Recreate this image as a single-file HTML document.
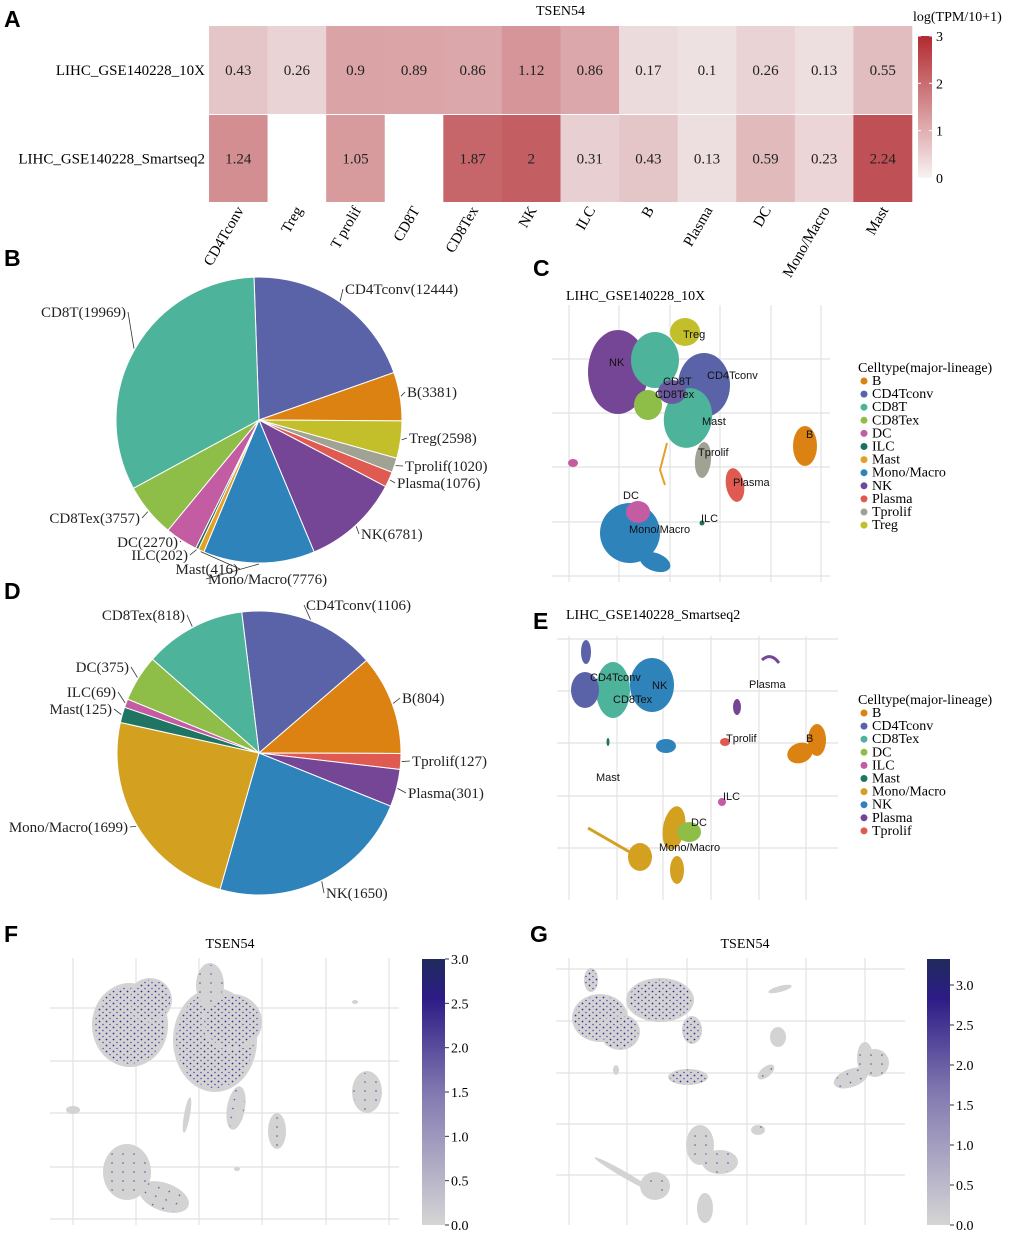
<!DOCTYPE html>
<html><head><meta charset="utf-8"><style>
body{margin:0;background:#fff}
svg{display:block}
.serif{font-family:"Liberation Serif",serif}
.sans{font-family:"Liberation Sans",sans-serif}
.let{font-family:"Liberation Sans",sans-serif;font-weight:bold;font-size:23px}
</style></head><body>
<svg id="fig" width="1020" height="1236" viewBox="0 0 1020 1236" xmlns="http://www.w3.org/2000/svg">
<defs>
<pattern id="dots" width="7" height="6" patternUnits="userSpaceOnUse">
<circle cx="1.5" cy="1.5" r="0.9" fill="#3a2a95"/><circle cx="5" cy="4.5" r="0.8" fill="#5c4cab"/>
</pattern>
<pattern id="dots2" width="11" height="9" patternUnits="userSpaceOnUse">
<circle cx="2" cy="2" r="0.8" fill="#5a4aa8"/>
</pattern>
<linearGradient id="redbar" x1="0" y1="1" x2="0" y2="0"><stop offset="0" stop-color="#f7f2f2"/><stop offset="1" stop-color="#b22a30"/></linearGradient>
<linearGradient id="bluebar" x1="0" y1="1" x2="0" y2="0"><stop offset="0" stop-color="#d5d5d5"/><stop offset="0.5" stop-color="#8278b0"/><stop offset="0.85" stop-color="#2d1c86"/><stop offset="1" stop-color="#1f2a5c"/></linearGradient>
</defs>
<g id="heat"></g>
<g id="pieB"></g>
<g id="pieD"></g>
<g id="umapC"></g>
<g id="umapE"></g>
<g id="umapF"></g>
<g id="umapG"></g>
<text class="let" x="4" y="27">A</text>
<text class="let" x="4" y="266">B</text>
<text class="let" x="533" y="276">C</text>
<text class="let" x="4" y="599">D</text>
<text class="let" x="533" y="629">E</text>
<text class="let" x="4" y="942">F</text>
<text class="let" x="530" y="942">G</text>
</svg>
<script>
const NS="http://www.w3.org/2000/svg";
function mk(parent,tag,attrs,txt){const e=document.createElementNS(NS,tag);for(const k in attrs)e.setAttribute(k,attrs[k]);if(txt!==undefined)e.textContent=txt;parent.appendChild(e);return e;}

// ---------- Panel A data ----------
const heatCols=["CD4Tconv","Treg","T prolif","CD8T","CD8Tex","NK","ILC","B","Plasma","DC","Mono/Macro","Mast"];
const heatRows=["LIHC_GSE140228_10X","LIHC_GSE140228_Smartseq2"];
const heat10x=[0.43,0.26,0.9,0.89,0.86,1.12,0.86,0.17,0.1,0.26,0.13,0.55];
const heatSS2=[1.24,null,1.05,null,1.87,2,0.31,0.43,0.13,0.59,0.23,2.24];
const heatTicks=[0,1,2,3];

// ---------- Pie data ----------
const pieBLabels=["CD4Tconv","B","Treg","Tprolif","Plasma","NK","Mono/Macro","Mast","ILC","DC","CD8Tex","CD8T"];
const pieBValues=[12444,3381,2598,1020,1076,6781,7776,416,202,2270,3757,19969];
const pieDLabels=["CD4Tconv","B","Tprolif","Plasma","NK","Mono/Macro","Mast","ILC","DC","CD8Tex"];
const pieDValues=[1106,804,127,301,1650,1699,125,69,375,818];

// ---------- Legends ----------
const legendC=["B","CD4Tconv","CD8T","CD8Tex","DC","ILC","Mast","Mono/Macro","NK","Plasma","Tprolif","Treg"];
const legendE=["B","CD4Tconv","CD8Tex","DC","ILC","Mast","Mono/Macro","NK","Plasma","Tprolif"];
const expTicksF=["0.0","0.5","1.0","1.5","2.0","2.5","3.0"];
const expTicksG=["0.0","0.5","1.0","1.5","2.0","2.5","3.0"];

// ---------- A heatmap ----------
(function(){
 const g=document.getElementById('heat');
 const x0=209,x1=912,rowsY=[[26,114],[115,202]];
 const cw=(x1-x0)/heatCols.length;
 const vmax=3;
 function col(v){const t=Math.pow(Math.min(v,vmax)/vmax,0.85);const a=[242,236,237],b=[176,36,42];return 'rgb('+a.map((c,i)=>Math.round(c+(b[i]-c)*t)).join(',')+')';}
 mk(g,'text',{x:(x0+x1)/2,y:15,'text-anchor':'middle','font-size':14,class:'serif',},'TSEN54');
 [heat10x,heatSS2].forEach((row,r)=>{
  const [ya,yb]=rowsY[r];
  const lab=mk(g,'text',{x:205,y:(ya+yb)/2+5,'text-anchor':'end','font-size':15,class:'serif'},heatRows[r]);
  
  
  row.forEach((v,i)=>{
   const rc=mk(g,'rect',{x:x0+i*cw,y:ya,width:cw+0.3,height:yb-ya,fill:v===null?'#ffffff':col(v)});
   
   
   if(v!==null){
    const t=mk(g,'text',{x:x0+i*cw+cw/2,y:(ya+yb)/2+5,'text-anchor':'middle','font-size':15,class:'serif',fill:'#222'},String(v));
    
    
   }
  });
 });
 heatCols.forEach((c,i)=>{
  const cx=x0+i*cw+cw/2+6,cy=210;
  const t=mk(g,'text',{x:cx,y:cy,'text-anchor':'end','font-size':15,class:'serif',transform:'rotate(-60 '+cx+' '+cy+')'},c);
  
  
 });
 // colorbar
 const bx=918,by0=178,by1=36;
 const cb=mk(g,'rect',{x:bx,y:by1,width:14,height:by0-by1,fill:'url(#redbar)'});
 
 
 mk(g,'text',{x:913,y:21,'font-size':14,class:'serif'},'log(TPM/10+1)');
 heatTicks.forEach(v=>{
  const y=by0-(v/vmax)*(by0-by1);
  mk(g,'line',{x1:bx,x2:bx+3,y1:y,y2:y,stroke:'#fff'});
  mk(g,'line',{x1:bx+11,x2:bx+14,y1:y,y2:y,stroke:'#fff'});
  const t=mk(g,'text',{x:936,y:y+5,'font-size':14,class:'serif'},String(v));
  
  
 });
})();

// ---------- pies ----------
function drawPie(gid,labels,values,colors,cx,cy,r,start,labelPos){
 const g=document.getElementById(gid);
 const tot=values.reduce((a,b)=>a+b,0);
 let a=start;
 values.forEach((v,i)=>{
  const a2=a+v/tot*360;
  const p=ang=>[cx+r*Math.sin(ang*Math.PI/180),cy-r*Math.cos(ang*Math.PI/180)];
  const [sx,sy]=p(a),[ex,ey]=p(a2);
  const large=(a2-a)>180?1:0;
  const s=mk(g,'path',{d:`M${cx},${cy} L${sx},${sy} A${r},${r} 0 ${large} 1 ${ex},${ey} Z`,fill:colors[i],stroke:'#fff','stroke-width':1});
  
  
  const mid=(a+a2)/2;const [mx,my]=[cx+(r+1)*Math.sin(mid*Math.PI/180),cy-(r+1)*Math.cos(mid*Math.PI/180)];
  const lp=labelPos[i];
  const lx=lp[2]==='end'?lp[0]+2:lp[0]-2;
  mk(g,'line',{x1:mx,y1:my,x2:lx,y2:lp[1]-5,stroke:'#333','stroke-width':0.8});
  const t=mk(g,'text',{x:lp[0],y:lp[1],'font-size':15,class:'serif','text-anchor':lp[2],fill:'#222'},labels[i]+'('+v+')');
  
  
  a=a2;
 });
}
const colMap={"CD4Tconv":"#5a63a7","B":"#dc8212","Treg":"#c3bf2b","Tprolif":"#a0a293","Plasma":"#df5a50","NK":"#764696","Mono/Macro":"#2f83bb","Mast":"#e3a127","ILC":"#1f6f5c","DC":"#c45ca3","CD8Tex":"#8fbe48","CD8T":"#4db49b"};
const colMapE={"CD4Tconv":"#5a63a7","B":"#dc8212","Tprolif":"#df5a50","Plasma":"#764696","NK":"#2f83bb","Mono/Macro":"#d3a020","Mast":"#1f7561","ILC":"#c45ca3","DC":"#8fbe48","CD8Tex":"#4db49b"};
drawPie('pieB',pieBLabels,pieBValues,pieBLabels.map(l=>colMap[l]),259,420,143,-2,
 [[345,294,'start'],[407,397,'start'],[409,443,'start'],[405,471,'start'],[397,488,'start'],[361,539,'start'],[208,584,'start'],[238,574,'end'],[188,560,'end'],[178,547,'end'],[140,523,'end'],[126,317,'end']]);
drawPie('pieD',pieDLabels,pieDValues,pieDLabels.map(l=>colMapE[l]),259,753,142,-7,
 [[306,610,'start'],[402,703,'start'],[412,766,'start'],[408,798,'start'],[326,898,'start'],[128,832,'end'],[112,714,'end'],[116,697,'end'],[129,672,'end'],[185,620,'end']]);

// ---------- UMAP helpers ----------
function grid(g,xs,ys,xa,xb,ya,yb){
 xs.forEach(x=>mk(g,'line',{x1:x,x2:x,y1:ya,y2:yb,stroke:'#e2e2e2','stroke-width':1.2}));
 ys.forEach(y=>mk(g,'line',{x1:xa,x2:xb,y1:y,y2:y,stroke:'#e2e2e2','stroke-width':1.2}));
}
function blob(g,cx,cy,rx,ry,fill,rot,name){
 const e=mk(g,'ellipse',{cx,cy,rx,ry,fill,transform:`rotate(${rot||0} ${cx} ${cy})`});
 
 
 return e;
}
function lab(g,x,y,t){const e=mk(g,'text',{x,y,'font-size':11,class:'sans',fill:'#111'},t);}
function legend(g,x,y,title,items,cmap){
 mk(g,'text',{x,y,'font-size':14,class:'serif'},title);
 items.forEach((it,i)=>{
  const yy=y+13+i*13.1;
  const c=mk(g,'circle',{cx:x+6,cy:yy-4,r:3.5,fill:cmap[it]});
  
  
  const t=mk(g,'text',{x:x+14,y:yy,'font-size':14,class:'serif'},it);
  
  
 });
}

// ---------- C ----------
(function(){
 const g=document.getElementById('umapC');
 mk(g,'text',{x:566,y:300,'font-size':14,class:'serif'},'LIHC_GSE140228_10X');
 grid(g,[569,619,670,720,771,821],[359,413,467,522,576],552,830,305,582);
 blob(g,618,372,30,42,colMap.NK,0);
 blob(g,655,360,24,28,colMap.CD8T,0);
 blob(g,704,385,26,32,colMap.CD4Tconv,0);
 blob(g,685,332,15,14,colMap.Treg,0);
 blob(g,688,418,24,30,colMap.CD8T,10);
 blob(g,648,405,14,15,colMap.CD8Tex,0);
 blob(g,672,392,14,12,'#6a5aa0',0);
 blob(g,703,460,8,18,colMap.Tprolif,5);
 blob(g,735,485,9,17,colMap.Plasma,-10);
 blob(g,805,446,12,20,colMap.B,0);
 blob(g,630,533,30,30,colMap['Mono/Macro'],0);
 blob(g,655,562,16,9,colMap['Mono/Macro'],20);
 blob(g,638,512,12,11,colMap.DC,0);
 blob(g,573,463,5,4,colMap.DC,0);
 blob(g,702,523,2.5,2.5,colMap.ILC,0);
 mk(g,'path',{d:'M667,443 L660,470 L665,485',stroke:colMap.Mast,'stroke-width':2,fill:'none'});
 lab(g,683,338,'Treg');lab(g,609,366,'NK');lab(g,707,379,'CD4Tconv');lab(g,663,385,'CD8T');lab(g,655,398,'CD8Tex');
 lab(g,702,425,'Mast');lab(g,698,456,'Tprolif');lab(g,733,486,'Plasma');lab(g,806,438,'B');lab(g,623,499,'DC');lab(g,629,533,'Mono/Macro');lab(g,701,522,'ILC');
 legend(g,858,372,'Celltype(major-lineage)',legendC,colMap);
})();

// ---------- E ----------
(function(){
 const g=document.getElementById('umapE');
 mk(g,'text',{x:566,y:619,'font-size':14,class:'serif'},'LIHC_GSE140228_Smartseq2');
 grid(g,[569,617,663,711,759,806],[639,691,743,796,848],557,838,636,900);
 blob(g,652,685,22,27,colMapE.NK,0);
 blob(g,613,690,17,28,colMapE.CD8Tex,0);
 blob(g,585,690,14,18,colMapE.CD4Tconv,0);
 blob(g,586,652,5,12,colMapE.CD4Tconv,0);
 blob(g,666,746,10,7,colMapE.NK,0);
 blob(g,737,707,4,8,colMapE.Plasma,0);
 mk(g,'path',{d:'M762,660 Q771,652 779,663',stroke:colMapE.Plasma,'stroke-width':3,fill:'none'});
 blob(g,725,742,5,4,colMapE.Tprolif,0);
 blob(g,800,753,13,10,colMapE.B,-20);
 blob(g,817,740,9,16,colMapE.B,0);
 blob(g,722,802,4,4,colMapE.ILC,0);
 blob(g,674,828,11,22,colMapE['Mono/Macro'],10);
 blob(g,640,857,12,14,colMapE['Mono/Macro'],0);
 blob(g,677,870,7,14,colMapE['Mono/Macro'],0);
 mk(g,'path',{d:'M588,828 L640,858',stroke:colMapE['Mono/Macro'],'stroke-width':3,fill:'none'});
 blob(g,689,832,12,10,colMapE.DC,0);
 blob(g,608,742,1.5,4,colMapE.Mast,0);
 lab(g,590,681,'CD4Tconv');lab(g,652,689,'NK');lab(g,613,703,'CD8Tex');lab(g,749,688,'Plasma');lab(g,726,742,'Tprolif');lab(g,806,742,'B');
 lab(g,596,781,'Mast');lab(g,723,800,'ILC');lab(g,691,826,'DC');lab(g,659,851,'Mono/Macro');
 legend(g,858,704,'Celltype(major-lineage)',legendE,colMapE);
})();

// ---------- F & G ----------
function expPanel(gid,title,tx,xs,ys,xa,xb,ya,yb,blobs,bar,ticks,tickTopY){
 const g=document.getElementById(gid);
 mk(g,'text',{x:tx,y:948,'text-anchor':'middle','font-size':14,class:'serif'},title);
 grid(g,xs,ys,xa,xb,ya,yb);
 blobs.forEach(b=>{
  blob(g,b[0],b[1],b[2],b[3],'#d3d3d3',b[5]||0);
  if(b[4]){blob(g,b[0],b[1],b[2]*0.92,b[3]*0.92,b[4]===1?'url(#dots)':'url(#dots2)',b[5]||0,'expression-dots');}
 });
 const cb=mk(g,'rect',{x:bar[0],y:bar[1],width:23,height:bar[2]-bar[1],fill:'url(#bluebar)'});
 
 
 const vmax=parseFloat(ticks[ticks.length-1]);
 ticks.forEach(t=>{
  const y=bar[2]-(parseFloat(t)/vmax)*(bar[2]-tickTopY);
  mk(g,'line',{x1:bar[0]+23,x2:bar[0]+27,y1:y,y2:y,stroke:'#333'});
  const e=mk(g,'text',{x:bar[0]+29,y:y+5,'font-size':14,class:'serif'},t);
  
  
 });
}
expPanel('umapF','TSEN54',230,[73,136,199,262,326,389],[1008,1061,1113,1167,1219],50,399,958,1225,
 [[130,1025,38,42,1,0],[150,1000,22,22,1,0],[215,1040,42,52,1,0],[210,985,14,22,2,0],[232,1022,30,28,1,0],[355,1002,3,2,0],[367,1092,15,21,2,0],[236,1108,9,22,2,10],[277,1131,9,18,2,0],[73,1110,7,4,0,0],[127,1172,24,28,2,0],[164,1197,26,14,2,20],[237,1169,3,2,0,0],[187,1115,3,18,0,10]],
 [422,959,1225],expTicksF,959);
expPanel('umapG','TSEN54',745,[569,627,687,747,806,865],[969,1021,1073,1124,1175],556,905,958,1225,
 [[600,1018,28,24,1,0],[660,1000,34,22,1,0],[620,1032,20,18,1,0],[591,980,7,12,1,0],[692,1030,10,14,1,0],[616,1070,3,5,0,0],[688,1077,20,8,1,0],[780,989,12,3,0,-15],[778,1037,8,10,0,0],[766,1072,10,5,2,-40],[875,1063,14,14,2,0],[851,1078,18,9,2,-20],[865,1058,8,16,2,0],[758,1130,7,5,2,0],[700,1145,14,20,2,0],[720,1162,18,12,2,0],[655,1186,15,14,2,0],[705,1208,8,15,0,0],[625,1175,35,3,0,30]],
 [927,959,1225],expTicksG,985);
</script>
</body></html>
